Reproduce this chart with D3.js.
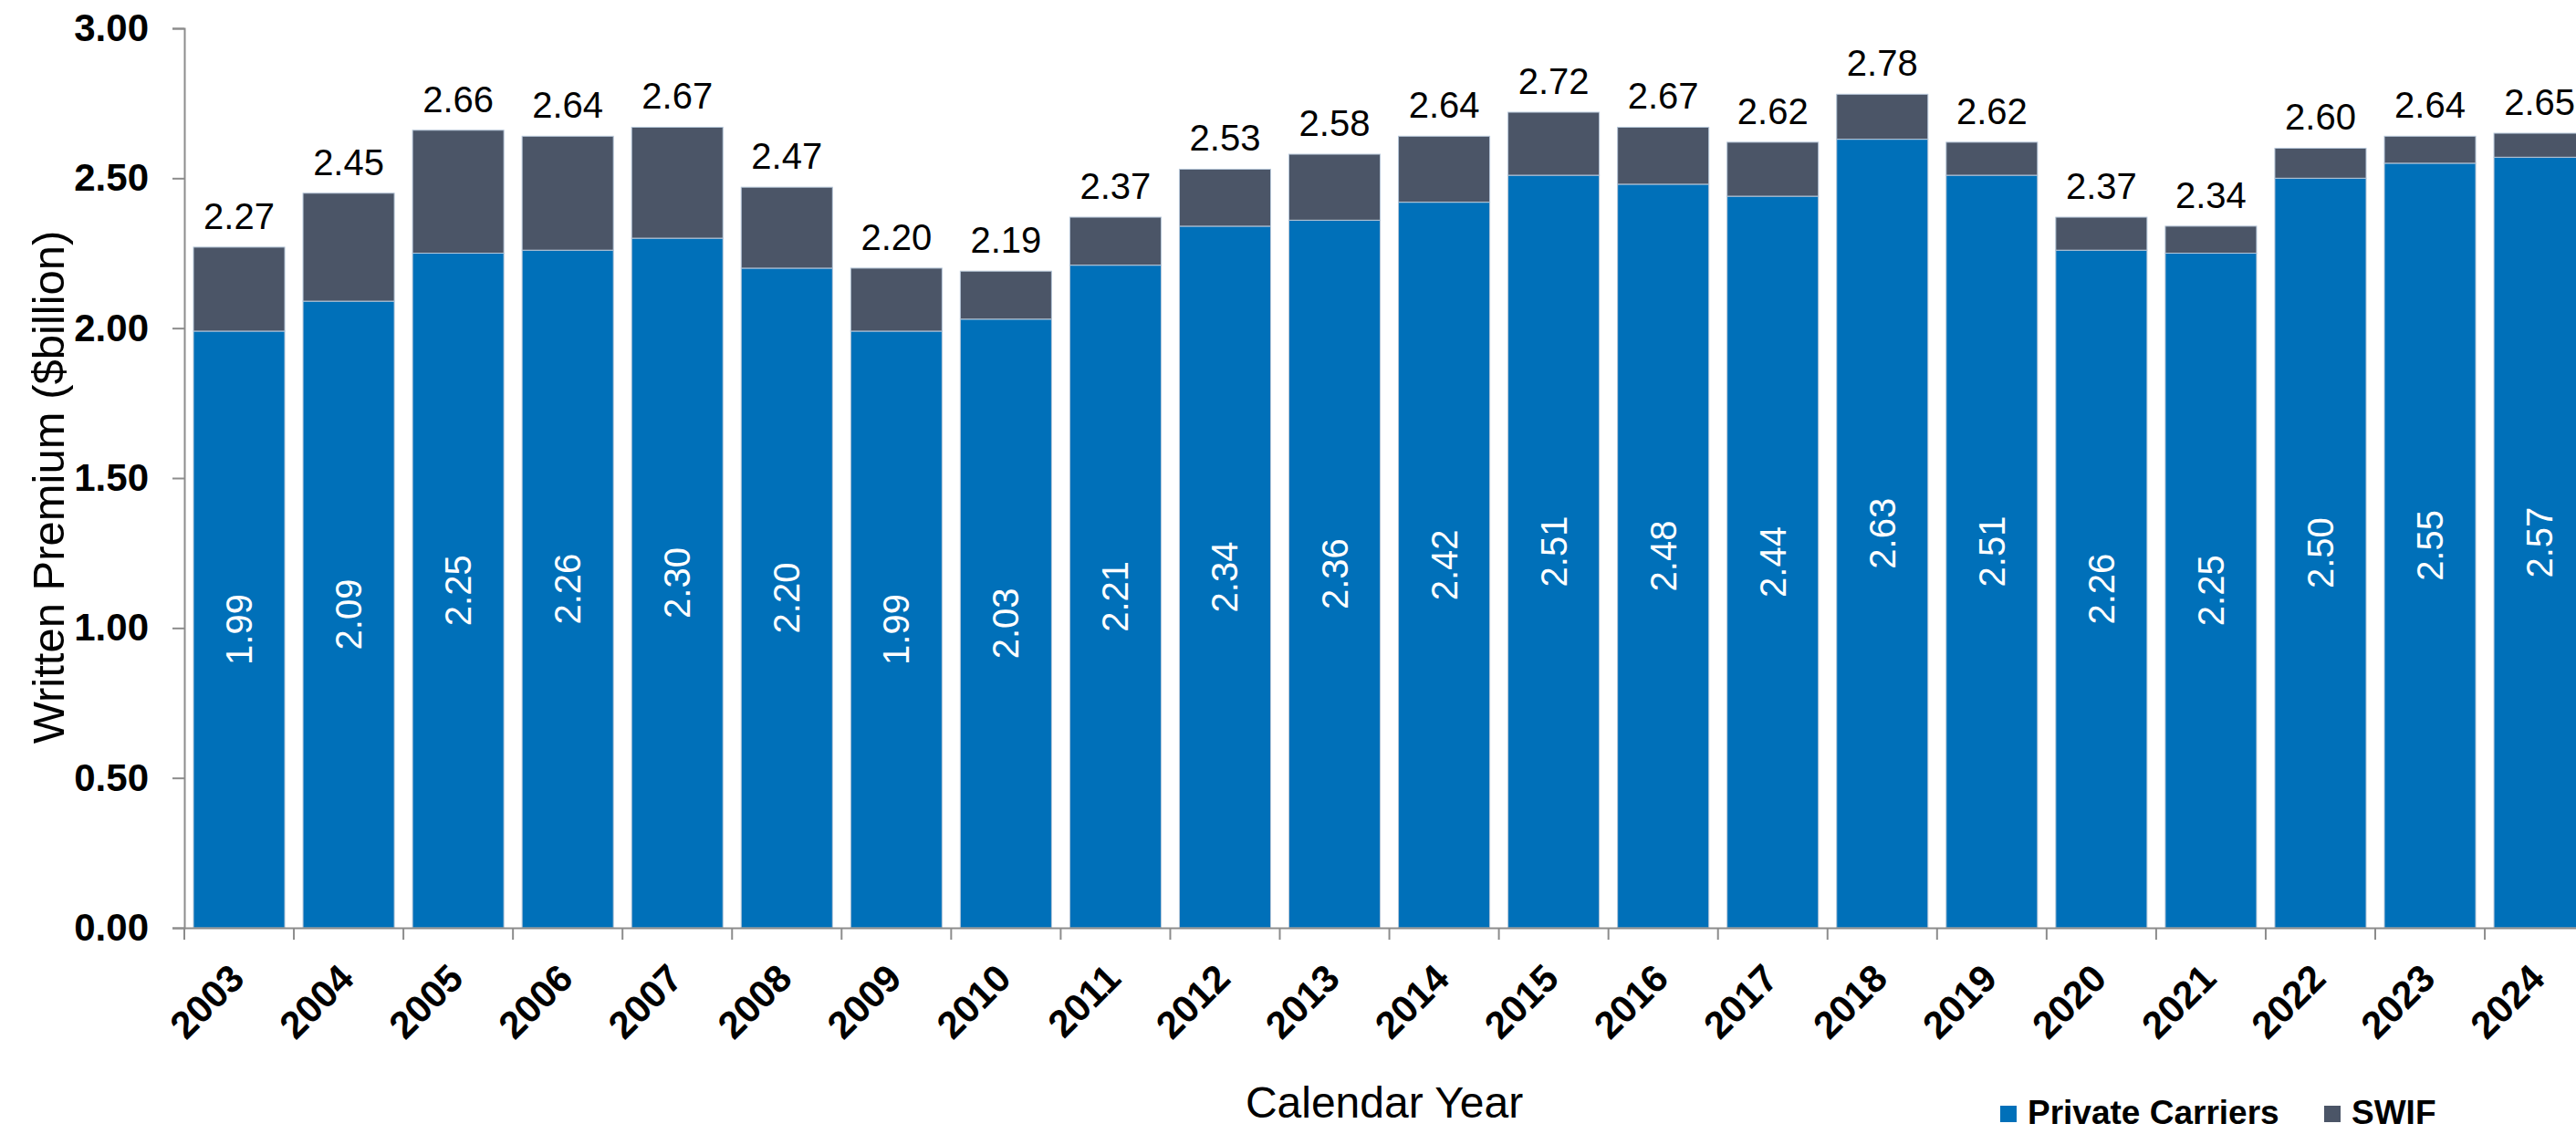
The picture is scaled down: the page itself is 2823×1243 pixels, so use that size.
<!DOCTYPE html>
<html lang="en">
<head>
    <meta charset="UTF-8">
    <title>Written Premium</title>
    <script src="https://d3js.org/d3.v7.min.js"></script>
    <style>
        body { margin: 0; background: #fff; }
        svg { font-family: "Liberation Sans", Arial, sans-serif; display: block; }
    </style>
</head>
<body>
    <div id="chart"></div>
    <script>
        const years = ["2003", "2004", "2005", "2006", "2007", "2008", "2009", "2010", "2011", "2012", "2013",
                       "2014", "2015", "2016", "2017", "2018", "2019", "2020", "2021", "2022", "2023", "2024"];
        const privateCarriers = [1.99, 2.09, 2.25, 2.26, 2.30, 2.20, 1.99, 2.03, 2.21, 2.34, 2.36,
                                 2.42, 2.51, 2.48, 2.44, 2.63, 2.51, 2.26, 2.25, 2.50, 2.55, 2.57];
        const totals = [2.27, 2.45, 2.66, 2.64, 2.67, 2.47, 2.20, 2.19, 2.37, 2.53, 2.58,
                        2.64, 2.72, 2.67, 2.62, 2.78, 2.62, 2.37, 2.34, 2.60, 2.64, 2.65];
        const yTicks = [0, 0.5, 1, 1.5, 2, 2.5, 3];
        const seriesNames = ["Private Carriers", "SWIF"];
        const colors = ["#0070b9", "#4b5567"];

        const width = 2823, height = 1243;
        const x0 = 202, y0 = 1017, yTop = 31;

        const rows = years.map((yr, i) => ({
            year: yr,
            "Private Carriers": privateCarriers[i],
            "SWIF": +(totals[i] - privateCarriers[i]).toFixed(2),
            total: totals[i]
        }));

        const svg = d3.select("#chart").append("svg")
            .attr("width", width)
            .attr("height", height);

        const x = d3.scaleBand()
            .domain(years)
            .range([x0, x0 + years.length * 120.05])
            .paddingInner(0.1667)
            .paddingOuter(0.0833);

        const y = d3.scaleLinear()
            .domain([0, 3])
            .range([y0, yTop]);

        const layers = d3.stack().keys(seriesNames)(rows);

        svg.selectAll(".layer")
            .data(layers)
            .enter().append("g")
            .attr("class", "layer")
            .attr("fill", (d, i) => colors[i])
            .selectAll("rect")
            .data(d => d)
            .enter().append("rect")
            .attr("x", d => x(d.data.year))
            .attr("y", d => y(d[1]))
            .attr("width", x.bandwidth())
            .attr("height", d => y(d[0]) - y(d[1]))
            .attr("stroke", "#b7c7d9")
            .attr("stroke-width", 1);

        // y axis
        const yAxis = svg.append("g")
            .attr("transform", `translate(${x0},0)`)
            .call(d3.axisLeft(y).tickValues(yTicks).tickFormat(d3.format(".2f")).tickSize(13).tickPadding(26));
        yAxis.select(".domain").attr("stroke", "#8c8c8c").attr("stroke-width", 2);
        yAxis.selectAll(".tick line").attr("stroke", "#8c8c8c").attr("stroke-width", 2);
        yAxis.selectAll(".tick text")
            .style("font-size", "42px")
            .style("font-weight", "bold")
            .attr("fill", "#000");

        // x axis, ticks sit between the bars
        const xAxis = svg.append("g")
            .attr("transform", `translate(0,${y0})`)
            .call(d3.axisBottom(x).tickSize(0).tickPadding(0));
        xAxis.select(".domain").attr("stroke", "#8c8c8c").attr("stroke-width", 2);
        xAxis.selectAll(".tick text")
            .style("font-size", "42px")
            .style("font-weight", "bold")
            .attr("fill", "#000")
            .attr("text-anchor", "end")
            .attr("y", 0)
            .attr("dy", 0)
            .attr("transform", "translate(8,58) rotate(-45)");
        const step = x.step();
        xAxis.selectAll(".sep")
            .data(years)
            .enter().append("line")
            .attr("class", "sep")
            .attr("x1", d => x(d) - step * 0.0833)
            .attr("x2", d => x(d) - step * 0.0833)
            .attr("y1", 0)
            .attr("y2", 13)
            .attr("stroke", "#8c8c8c")
            .attr("stroke-width", 2);

        // private carrier values inside the blue segment
        svg.selectAll(".inner-label")
            .data(rows)
            .enter().append("text")
            .attr("class", "inner-label")
            .attr("transform", d => `translate(${x(d.year) + x.bandwidth() / 2},${(y(0) + y(d["Private Carriers"])) / 2}) rotate(-90)`)
            .attr("text-anchor", "middle")
            .attr("dy", "0.35em")
            .attr("fill", "#fff")
            .style("font-size", "40px")
            .text(d => d["Private Carriers"].toFixed(2));

        // totals above the bars
        svg.selectAll(".total-label")
            .data(rows)
            .enter().append("text")
            .attr("class", "total-label")
            .attr("x", d => x(d.year) + x.bandwidth() / 2)
            .attr("y", d => y(d.total) - 20)
            .attr("text-anchor", "middle")
            .attr("fill", "#000")
            .style("font-size", "40px")
            .text(d => d.total.toFixed(2));

        // axis titles
        svg.append("text")
            .attr("transform", `translate(70,${(y0 + yTop) / 2 + 10}) rotate(-90)`)
            .attr("text-anchor", "middle")
            .style("font-size", "49px")
            .text("Written Premium ($billion)");

        svg.append("text")
            .attr("x", 1517)
            .attr("y", 1225)
            .attr("text-anchor", "middle")
            .style("font-size", "48px")
            .text("Calendar Year");

        // legend
        const legendX = [2192, 2547];
        const legend = svg.selectAll(".legend")
            .data(seriesNames)
            .enter().append("g")
            .attr("class", "legend")
            .attr("transform", (d, i) => `translate(${legendX[i]},1212)`);
        legend.append("rect")
            .attr("width", 18)
            .attr("height", 18)
            .attr("fill", (d, i) => colors[i]);
        legend.append("text")
            .attr("x", 30)
            .attr("y", 20)
            .style("font-size", "37px")
            .style("font-weight", "bold")
            .text(d => d);
    </script>
</body>
</html>
